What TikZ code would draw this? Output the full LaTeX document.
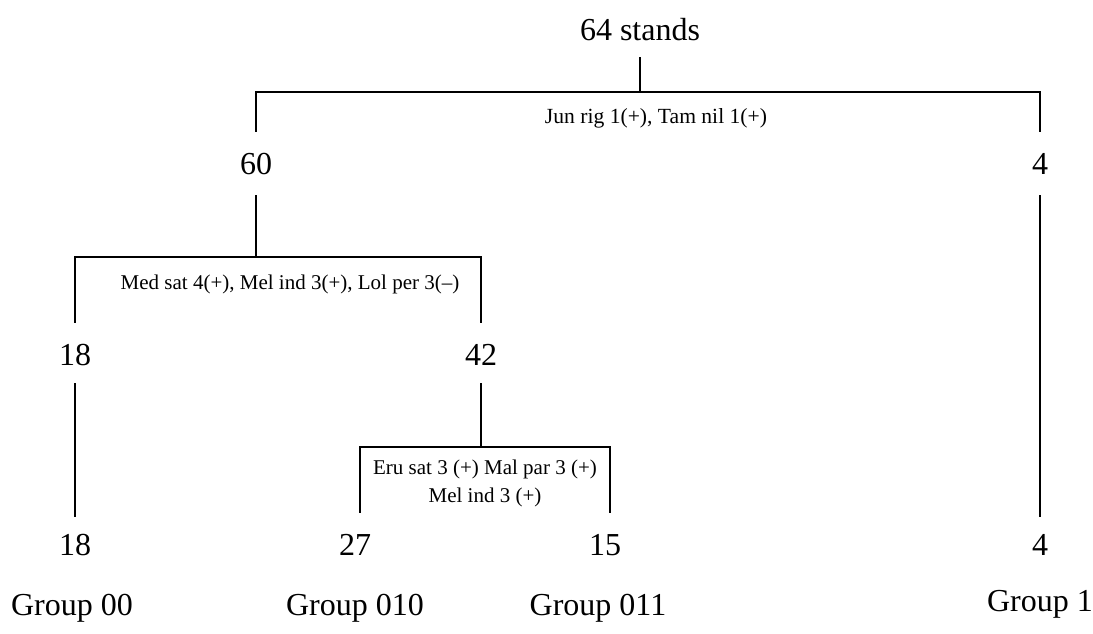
\documentclass[tikz,border=0pt]{standalone}
\usepackage{fontspec}
\setmainfont{Liberation Serif}
\begin{document}
\begin{tikzpicture}[x=1pt,y=-1pt,
  big/.style={font=\fontsize{32}{36}\selectfont, inner sep=0pt},
  small/.style={font=\fontsize{21}{28}\selectfont, inner sep=0pt, align=center},
  conn/.style={line width=1.6pt, line cap=rect}]
\useasboundingbox (0,0) rectangle (1093,633);
% count nodes
\node[big] (n64) at (640,30) {64 stands};
\node[big] (n60) at (256,164) {60};
\node[big] (n4a) at (1040,164) {4};
\node[big] (n18a) at (75,355) {18};
\node[big] (n42) at (481,355) {42};
\node[big] (n18b) at (75,545) {18};
\node[big] (n27) at (355,545) {27};
\node[big] (n15) at (605,545) {15};
\node[big] (n4b) at (1040,545) {4};
% group labels
\node[big] (g00) at (72,608) {Group 00};
\node[big] (g010) at (355,608) {Group 010};
\node[big] (g011) at (598,608) {Group 011};
\node[big] (g1) at (1040,604) {Group 1};
% split labels
\node[small, font=\fontsize{21.6}{28}\selectfont] (s1) at (656,118) {Jun rig 1(+), Tam nil 1(+)};
\node[small] (s2) at (290,284) {Med sat 4(+), Mel ind 3(+), Lol per 3(--)};
\node[small] (s3) at (485,483) {Eru sat 3 (+) Mal par 3 (+)\\Mel ind 3 (+)};
% connector end points
\coordinate (a0) at (640,58);
\coordinate (a1) at (640,92);
\coordinate (aL) at (256,92);
\coordinate (aR) at (1040,92);
\coordinate (aLe) at (256,131);
\coordinate (aRe) at (1040,131);
\coordinate (b0) at (256,196);
\coordinate (b1) at (256,257);
\coordinate (bL) at (75,257);
\coordinate (bR) at (481,257);
\coordinate (bLe) at (75,322);
\coordinate (bRe) at (481,322);
\coordinate (c0) at (75,384);
\coordinate (c1) at (75,516);
\coordinate (d0) at (1040,196);
\coordinate (d1) at (1040,516);
\coordinate (e0) at (481,384);
\coordinate (e1) at (481,447);
\coordinate (eL) at (360,447);
\coordinate (eR) at (610,447);
\coordinate (eLe) at (360,512);
\coordinate (eRe) at (610,512);
% connectors
\draw[conn] (a0) -- (a1);
\draw[conn] (aLe) -- (aL) -- (aR) -- (aRe);
\draw[conn] (b0) -- (b1);
\draw[conn] (bLe) -- (bL) -- (bR) -- (bRe);
\draw[conn] (c0) -- (c1);
\draw[conn] (d0) -- (d1);
\draw[conn] (e0) -- (e1);
\draw[conn] (eLe) -- (eL) -- (eR) -- (eRe);
\end{tikzpicture}
\end{document}
